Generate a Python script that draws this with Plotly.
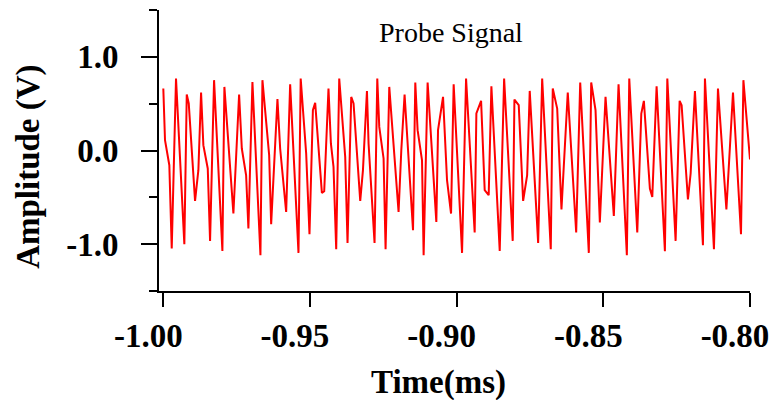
import plotly.graph_objects as go

time_ms = [
    -1.00000, -0.99942, -0.99795, -0.99713, -0.99567, -0.99283, -0.99201, -0.99133, -0.98918, -0.98805,
    -0.98713, -0.98635, -0.98485, -0.98406, -0.98270, -0.97986, -0.97918, -0.97611, -0.97416, -0.97324,
    -0.97177, -0.97099, -0.96962, -0.96689, -0.96621, -0.96392, -0.96324, -0.96109, -0.96017, -0.95812,
    -0.95676, -0.95392, -0.95317, -0.95130, -0.95017, -0.94901, -0.94823, -0.94594, -0.94515, -0.94369,
    -0.94287, -0.94198, -0.94106, -0.94003, -0.93799, -0.93720, -0.93594, -0.93515, -0.93287, -0.93194,
    -0.93058, -0.93003, -0.92799, -0.92706, -0.92638, -0.92491, -0.92423, -0.92297, -0.91980, -0.91887,
    -0.91775, -0.91488, -0.91410, -0.91331, -0.91181, -0.91126, -0.90990, -0.90693, -0.90635, -0.90464,
    -0.90328, -0.90191, -0.90102, -0.89816, -0.89679, -0.89386, -0.89328, -0.89167, -0.89044, -0.88908,
    -0.88816, -0.88532, -0.88382, -0.88089, -0.88031, -0.87884, -0.87734, -0.87597, -0.87509, -0.87222,
    -0.87085, -0.86792, -0.86724, -0.86573, -0.86427, -0.86212, -0.85925, -0.85788, -0.85495, -0.85413,
    -0.85266, -0.85119, -0.84925, -0.84642, -0.84481, -0.84198, -0.84116, -0.83843, -0.83706, -0.83618,
    -0.83413, -0.83331, -0.83184, -0.82901, -0.82819, -0.82536, -0.82399, -0.82331, -0.82116, -0.82024,
    -0.81877, -0.81604, -0.81536, -0.81229, -0.81092, -0.80805, -0.80580, -0.80307, -0.80225, -0.80000,
]
amplitude_v = [
    0.662, 0.110, -0.157, -1.046, 0.769, -1.000, 0.598, 0.502, -0.538, -0.210,
    0.619, 0.057, -0.192, -0.965, 0.751, -1.072, 0.679, -0.673, 0.598, 0.021,
    -0.264, -0.833, 0.732, -1.118, 0.751, -0.050, -0.787, 0.548, 0.021, -0.656,
    0.708, -1.093, 0.769, -0.032, -0.894, 0.430, 0.508, -0.453, -0.435, 0.662,
    0.075, -0.175, -1.054, 0.769, -0.068, -0.986, 0.572, 0.502, -0.538, -0.210,
    0.636, 0.075, -0.986, 0.769, 0.252, -0.085, -1.054, 0.679, -0.656, 0.003,
    0.598, -0.851, 0.726, 0.217, -0.104, -1.118, 0.726, -0.762, 0.217, 0.572,
    -0.317, -0.673, 0.708, -1.093, 0.769, -0.875, 0.395, 0.530, -0.424, -0.477,
    0.686, -1.072, 0.769, -0.965, 0.544, 0.484, -0.538, -0.264, 0.636, -0.986,
    0.769, -1.054, 0.662, 0.448, -0.630, 0.619, -0.875, 0.726, -1.093, 0.726,
    0.430, -0.769, 0.574, -0.698, 0.708, -1.118, 0.769, -0.875, 0.395, 0.530,
    -0.406, -0.495, 0.686, -1.075, 0.769, -0.965, 0.530, 0.484, -0.523, -0.246,
    0.636, -1.011, 0.769, -1.054, 0.662, -0.630, 0.619, -0.894, 0.751, -0.096,
]

x_tick_vals = [-1.00, -0.95, -0.90, -0.85, -0.80]
x_tick_text = ["-1.00", "-0.95", "-0.90", "-0.85", "-0.80"]
y_tick_vals = [-1.0, 0.0, 1.0]
y_tick_text = ["-1.0", "0.0", "1.0"]
y_minor_vals = [-1.5, -0.5, 0.5, 1.5]

chart_title = "Probe Signal"
x_title = "Time(ms)"
y_title = "Amplitude (V)"

SERIF = "Liberation Serif, Times New Roman, serif"

fig = go.Figure()
fig.add_trace(go.Scatter(
    x=time_ms, y=amplitude_v, mode="lines",
    line=dict(color="#FF0000", width=2),
    showlegend=False, hoverinfo="skip", cliponaxis=False,
))

fig.update_layout(
    width=773, height=400,
    margin=dict(l=159, r=23, t=10, b=109, autoexpand=False),
    paper_bgcolor="white", plot_bgcolor="white",
    showlegend=False,
    xaxis=dict(
        range=[-1.00147, -0.8],
        automargin=False,
        showgrid=False, zeroline=False,
        showline=True, linecolor="black", linewidth=2,
        ticks="outside", ticklen=14, tickwidth=2, tickcolor="black",
        tickvals=x_tick_vals, ticktext=x_tick_text,
        tickfont=dict(family=SERIF, size=33, color="black", weight="bold"),
        ticklabelshift=-15,
    ),
    yaxis=dict(
        range=[-1.5, 1.5],
        automargin=False,
        showgrid=False, zeroline=False,
        showline=True, linecolor="black", linewidth=2,
        ticks="outside", ticklen=16, tickwidth=2, tickcolor="black",
        tickvals=y_tick_vals, ticktext=y_tick_text,
        tickfont=dict(family=SERIF, size=33, color="black", weight="bold"),
        ticklabelstandoff=16,
        minor=dict(tickvals=y_minor_vals, ticks="outside", ticklen=8,
                   tickwidth=2, tickcolor="black", showgrid=False),
    ),
    annotations=[
        dict(text=chart_title, xref="paper", yref="paper", x=0.4936, y=0.92,
             xanchor="center", yanchor="middle", showarrow=False,
             font=dict(family=SERIF, size=28, color="black")),
        dict(text=x_title, xref="paper", yref="paper", x=0.473, y=-0.325,
             xanchor="center", yanchor="middle", showarrow=False,
             font=dict(family=SERIF, size=33, color="black", weight="bold")),
        dict(text=y_title, xref="paper", yref="paper", x=-0.2208, y=0.44,
             xanchor="center", yanchor="middle", showarrow=False, textangle=-90,
             font=dict(family=SERIF, size=33, color="black", weight="bold")),
    ],
)

fig.write_html("out.html", config={"displayModeBar": False},
               post_script="document.body.style.margin='0';")
